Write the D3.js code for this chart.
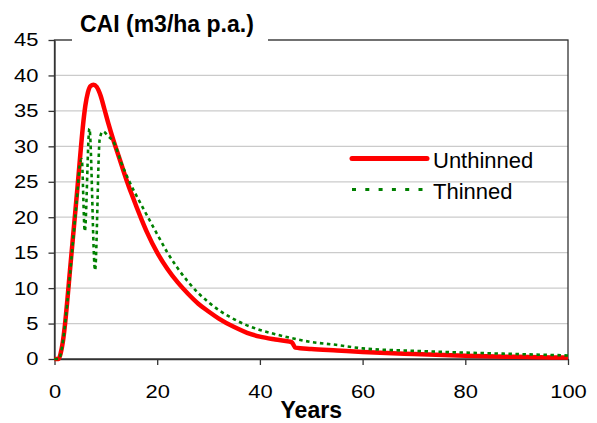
<!DOCTYPE html>
<html>
<head>
<meta charset="utf-8">
<script src="https://cdn.jsdelivr.net/npm/d3@7"></script>
<style>
  body { margin: 0; background: #fff; }
  svg { display: block; }
  .axis path, .axis line { stroke: #333; stroke-width: 1.3; }
  .axis text { font-family: "Liberation Sans", Arial, sans-serif; fill: #000; }
</style>
</head>
<body>
<svg class="cai_chart"></svg>
<script>
// values
var unthinned_years = [0, 0.8, 1.2, 1.6, 2.0, 2.5, 3.0, 3.5, 4.0, 4.5, 5.0, 5.5, 6.0, 6.5, 7.0, 7.6, 8.2, 9.0, 9.7,
  10.5, 11.5, 12.6, 14, 15, 16, 17, 18, 20, 22, 24, 26, 28, 30, 32, 35, 37.5, 40, 43, 45.8, 46.3, 46.9,
  50, 55, 60, 70, 80, 90, 100];
var unthinned_cai = [0, 0, 0.8, 2.3, 4.6, 8.3, 12.4, 16.4, 20.4, 24.4, 28.6, 32.6, 35.7, 37.6, 38.5, 38.7, 38.4, 37.1, 35.3,
  33.2, 30.8, 28.4, 25.3, 23.3, 21.4, 19.6, 17.9, 15.0, 12.7, 10.8, 9.2, 7.8, 6.7, 5.7, 4.5, 3.7, 3.15, 2.75, 2.45, 2.3, 1.6,
  1.4, 1.2, 1.0, 0.7, 0.45, 0.3, 0.2];

var thinned_years = [0, 0.9, 1.3, 1.7, 2.1, 2.5, 3.0, 3.5, 4.0, 4.5, 4.9, 5.3, 5.9, 6.8, 7.9, 8.8, 9.4,
  10.5, 11.6, 13, 14.6, 16.5, 18.2, 20, 22, 24, 26, 28, 30, 32, 34, 37, 40, 43, 45.8, 50, 54.8,
  60, 70, 80, 90, 100];
var thinned_cai = [0, 0, 1.0, 2.8, 5.2, 8.0, 11.8, 15.8, 19.8, 23.8, 27.3, 28.2, 18.0, 32.5, 12.5, 31.0, 32.1,
  31.4, 30.5, 27.7, 25.0, 22.3, 20.0, 17.6, 15.0, 12.8, 10.9, 9.3, 8.0, 6.9, 6.0, 4.9, 4.1, 3.5, 3.0, 2.4, 2.0,
  1.5, 1.15, 0.9, 0.7, 0.5];

var x_ticks = [0, 20, 40, 60, 80, 100];
var y_ticks = [0, 5, 10, 15, 20, 25, 30, 35, 40, 45];
var series_names = ["Unthinned", "Thinned"];
var chart_title = "CAI (m3/ha p.a.)";
var x_title = "Years";

(function() {
  var full_width = 597, full_height = 423;
  var margin = {top: 40, right: 29, bottom: 64, left: 54.5};
  var width = full_width - margin.left - margin.right,
      height = full_height - margin.top - margin.bottom;

  var font = '"Liberation Sans", Arial, sans-serif';

  var x_scaler = d3.scaleLinear().domain([0, 100]).range([0, width]);
  var y_scaler = d3.scaleLinear().domain([0, 45]).range([height, 0]);

  var svg = d3.select(".cai_chart")
      .attr("width", full_width)
      .attr("height", full_height);

  var chart = svg.append("g")
      .attr("transform", "translate(" + margin.left + "," + margin.top + ")");

  // gridlines
  chart.selectAll(".grid")
    .data(y_ticks)
    .enter().append("line")
      .attr("class", "grid")
      .attr("x1", 0)
      .attr("x2", width)
      .attr("y1", function(d) { return y_scaler(d); })
      .attr("y2", function(d) { return y_scaler(d); })
      .style("stroke", "#cbcbcb")
      .style("stroke-width", 1.2);

  // axes
  chart.append("g")
      .attr("class", "axis")
      .call(d3.axisLeft(y_scaler).tickValues(y_ticks).tickSize(6).tickSizeOuter(0).tickPadding(10));

  chart.append("g")
      .attr("class", "axis")
      .attr("transform", "translate(0," + height + ")")
      .call(d3.axisBottom(x_scaler).tickValues(x_ticks).tickSize(6).tickSizeOuter(0).tickPadding(20));

  // the labels in the picture are stretched sideways
  chart.selectAll(".axis text")
      .style("font-size", "18.5px")
      .attr("textLength", function() { return this.textContent.length * 12.2; })
      .attr("lengthAdjust", "spacingAndGlyphs");

  // frame round the plot
  chart.append("rect")
      .attr("x", 0)
      .attr("y", 0)
      .attr("width", width)
      .attr("height", height)
      .style("fill", "none")
      .style("stroke", "#333")
      .style("stroke-width", 1.3);

  var line = d3.line()
      .x(function(d) { return x_scaler(d[0]); })
      .y(function(d) { return y_scaler(d[1]); })
      .curve(d3.curveMonotoneX);

  var unthinned = unthinned_years.map(function(y, i) { return [y, unthinned_cai[i]]; });
  var thinned = thinned_years.map(function(y, i) { return [y, thinned_cai[i]]; });

  chart.append("path")
      .datum(unthinned)
      .attr("d", line)
      .style("fill", "none")
      .style("stroke", "#ff0000")
      .style("stroke-width", 4.5)
      .style("stroke-linejoin", "round");

  chart.append("path")
      .datum(thinned)
      .attr("d", line)
      .style("fill", "none")
      .style("stroke", "#008000")
      .style("stroke-width", 2.6)
      .style("stroke-dasharray", "3.5,3.5");

  // title box sits over the top of the frame
  svg.append("rect")
      .attr("x", 72)
      .attr("y", 8)
      .attr("width", 196)
      .attr("height", 40)
      .style("fill", "#fff");

  svg.append("text")
      .attr("x", 80)
      .attr("y", 32)
      .style("font-family", font)
      .style("font-size", "23px")
      .style("font-weight", "bold")
      .text(chart_title);

  svg.append("text")
      .attr("x", margin.left + width / 2)
      .attr("y", 418)
      .attr("text-anchor", "middle")
      .style("font-family", font)
      .style("font-size", "23px")
      .style("font-weight", "bold")
      .text(x_title);

  // legend
  var legend_styles = [
    {color: "#ff0000", width: 5, dash: null},
    {color: "#008000", width: 3, dash: "4,9.3"}
  ];

  var legend = svg.selectAll(".legend")
      .data(series_names)
    .enter().append("g")
      .attr("class", "legend")
      .attr("transform", function(d, i) { return "translate(352," + (158.5 + i * 31) + ")"; });

  legend.append("line")
      .attr("x1", 0)
      .attr("x2", 75)
      .attr("y1", 0)
      .attr("y2", 0)
      .style("stroke", function(d, i) { return legend_styles[i].color; })
      .style("stroke-width", function(d, i) { return legend_styles[i].width; })
      .style("stroke-linecap", function(d, i) { return i == 0 ? "round" : "butt"; })
      .style("stroke-dasharray", function(d, i) { return legend_styles[i].dash; });

  legend.append("text")
      .attr("x", 81)
      .attr("y", 9)
      .style("font-family", font)
      .style("font-size", "22px")
      .text(function(d) { return d; });
}());
</script>
</body>
</html>
